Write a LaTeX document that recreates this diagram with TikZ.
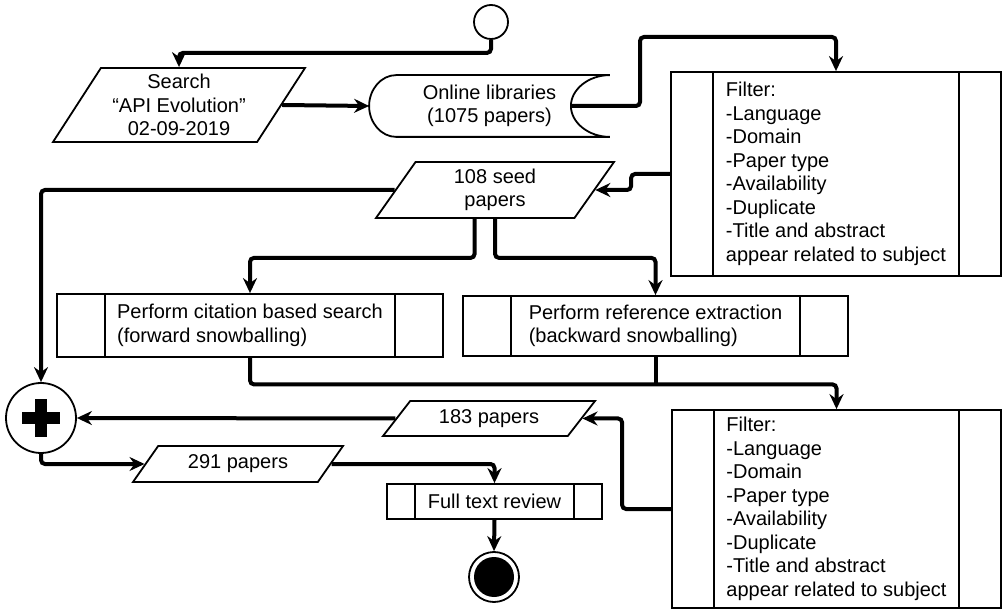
\documentclass[tikz,border=0pt]{standalone}
\usepackage{fontspec}
\setmainfont{Liberation Sans}
\usetikzlibrary{shapes.geometric,arrows.meta}

\begin{document}
\begin{tikzpicture}[x=1pt, y=-1pt,
  font=\fontsize{20}{23.5}\selectfont,
  every node/.style={line width=1.8pt, inner sep=2pt},
  flow/.style={line width=4pt, rounded corners=4pt, -{Stealth[length=15pt,width=14pt,inset=5pt]}},
  wire/.style={line width=4pt, rounded corners=4pt},
  io/.style 2 args={draw, trapezium, trapezium left angle=#1, trapezium right angle=#2,
    trapezium stretches body, align=center},
  proc/.style={draw, rectangle, align=left, path picture={
    \draw[line width=1.8pt]
      ([xshift=#1]path picture bounding box.north west) -- ([xshift=#1]path picture bounding box.south west)
      ([xshift=-#1]path picture bounding box.north east) -- ([xshift=-#1]path picture bounding box.south east);}},
  merge/.style={draw, circle, minimum size=70pt, path picture={
    \fill (path picture bounding box.center) ++(-6,-19) rectangle ++(12,38);
    \fill (path picture bounding box.center) ++(-19,-6) rectangle ++(38,12);}},
  stop/.style={draw, circle, minimum size=50pt, path picture={
    \fill (path picture bounding box.center) circle (20pt);}}]
  \useasboundingbox (0,0) rectangle (1002,612);

  % start, search and libraries
  \node[draw, circle, minimum size=34pt] (start) at (491,22) {};
  \node[io={53.9}{126.1}, minimum width=252pt, minimum height=74pt] (search) at (179,105)
    {Search\\“API Evolution”\\02-09-2019};
  \node[minimum width=239pt, minimum height=60pt, align=center] (lib) at (489.5,106)
    {Online libraries\\(1075 papers)};
  \draw[line width=1.8pt] ([xshift=27pt]lib.north west) -- (lib.north east)
    .. controls ([xshift=-21.5pt]lib.north east) and ([xshift=-39pt,yshift=16.5pt]lib.east) .. ([xshift=-39pt]lib.east)
    .. controls ([xshift=-39pt,yshift=-16.5pt]lib.east) and ([xshift=-21.5pt]lib.south east) .. (lib.south east)
    -- ([xshift=27pt]lib.south west)
    .. controls ([xshift=12pt]lib.south west) and ([yshift=-16.5pt]lib.west) .. (lib.west)
    .. controls ([yshift=16.5pt]lib.west) and ([xshift=12pt]lib.north west) .. cycle;
  \coordinate (libout) at ([xshift=-39pt]lib.east);
  \coordinate (bend1) at (640,37);

  % first filter and seed set
  \node[proc=42pt, minimum width=330pt, minimum height=204pt] (filt1) at (836,174)
    {Filter:\\-Language\\-Domain\\-Paper type\\-Availability\\-Duplicate\\-Title and abstract\\appear related to subject};
  \node[io={49.4}{130.6}, minimum width=238pt, minimum height=56pt] (seed) at (495,190)
    {108 seed\\papers};

  % snowballing
  \node[proc=48pt, minimum width=386pt, minimum height=63pt] (fwd) at (250,325.5)
    {Perform citation based search\\(forward snowballing)};
  \node[proc=48pt, minimum width=385pt, minimum height=60pt] (bwd) at (655.5,326)
    {Perform reference extraction\\(backward snowballing)};

  % second filter and merge
  \node[proc=42pt, minimum width=329pt, minimum height=198pt] (filt2) at (836.5,509)
    {Filter:\\-Language\\-Domain\\-Paper type\\-Availability\\-Duplicate\\-Title and abstract\\appear related to subject};
  \node[io={39.1}{140.9}, minimum width=212pt, minimum height=35pt] (p183) at (489,418.5) {183 papers};
  \node[merge] (plus) at (41,418) {};
  \node[io={41.3}{138.7}, minimum width=210pt, minimum height=36pt] (p291) at (238,464) {291 papers};
  \node[proc=28pt, minimum width=215pt, minimum height=35pt] (full) at (494.5,501.5) {Full text review};
  \node[stop] (end) at (494,577) {};

  % connectors
  \draw[flow] (start.south) -- ++(0,13) -| (search.north);
  \draw[flow] (search.east) -- (lib.west);
  \draw[flow] (libout) -| (bend1) -| (filt1.north);
  \draw[flow] (filt1.west) -- ++(-39,0) |- (seed.east);
  \draw[flow] (seed.bottom side) -- ++(0,39) -| (fwd.north);
  \draw[flow] (seed.south) -- ++(0,39) -| (bwd.north);
  \draw[flow] (fwd.south) -- ++(0,26.5) coordinate (join) -| (filt2.north);
  \draw[wire] (bwd.south) -- (bwd.south |- join);
  \draw[flow] (filt2.west) -- ++(-49,0) |- (p183.east);
  \draw[flow] (p183.west) -- (plus.east);
  \draw[flow] (seed.west) -| (plus.north);
  \draw[flow] (plus.south) |- (p291.west);
  \draw[flow] (p291.east) -| (full.north);
  \draw[flow] (full.south) -- (end.north);
\end{tikzpicture}
\end{document}
